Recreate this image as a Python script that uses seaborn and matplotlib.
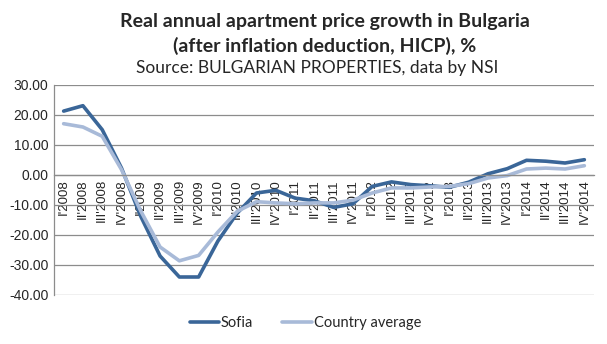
import matplotlib
matplotlib.use("Agg")
import matplotlib.pyplot as plt
import seaborn as sns
import pandas as pd
from matplotlib.lines import Line2D

quarters = ["I'2008", "II'2008", "III'2008", "IV'2008",
            "I'2009", "II'2009", "III'2009", "IV'2009",
            "I'2010", "II'2010", "III'2010", "IV'2010",
            "I'2011", "II'2011", "III'2011", "IV'2011",
            "I'2012", "II'2012", "III'2012", "IV'2012",
            "I'2013", "II'2013", "III'2013", "IV'2013",
            "I'2014", "II'2014", "III'2014", "IV'2014"]
sofia = [21.3, 23.1, 15.1, 2.3, -13.8, -27.0, -34.0, -34.0,
         -22.0, -12.7, -6.0, -5.1, -7.7, -8.6, -10.8, -9.6,
         -3.8, -2.3, -3.2, -3.6, -4.1, -2.4, 0.4, 2.1,
         4.9, 4.6, 4.0, 5.1]
country = [17.1, 16.0, 12.9, 1.8, -12.0, -24.0, -28.6, -26.8,
           -19.0, -12.1, -8.9, -9.3, -9.6, -9.3, -9.3, -8.4,
           -6.0, -4.3, -4.3, -4.0, -3.8, -2.9, -1.0, -0.2,
           2.0, 2.3, 2.0, 3.1]
series_names = ["Sofia", "Country average"]
colors = ["#3A6698", "#A8BAD8"]

df = pd.DataFrame({"quarter": quarters * 2,
                   "value": sofia + country,
                   "series": [series_names[0]] * len(quarters) + [series_names[1]] * len(quarters)})
df["x"] = list(range(len(quarters))) * 2

sns.set_style("white")
plt.rcParams['font.family'] = ['Liberation Sans', 'DejaVu Sans']

fig = plt.figure(figsize=(6.07, 3.44), dpi=100)
ax = fig.add_axes([54/607, 1 - 295/344, (594-54)/607, (295-85)/344])

sns.lineplot(data=df, x="x", y="value", hue="series", palette=colors,
             linewidth=2.6, ax=ax, legend=False, sort=False)

for s in ["top", "right"]:
    ax.spines[s].set_visible(False)
ax.spines["bottom"].set_position(("data", 0))
ax.spines["left"].set_color("#8C8C8C")
ax.spines["left"].set_linewidth(0.9)
ax.spines["bottom"].set_color("#8C8C8C")
ax.spines["bottom"].set_linewidth(0.9)

ax.set_xlim(-0.5, len(quarters) - 0.5)
ax.set_ylim(-40, 30)
ax.set_yticks(range(-40, 31, 10))
ax.set_yticklabels([f"{v:.2f}" for v in range(-40, 31, 10)], fontsize=10)
ax.set_xticks(range(len(quarters)))
ax.set_xticklabels(quarters, rotation=90, fontsize=9.5)
ax.tick_params(axis='x', length=0, pad=3)
ax.tick_params(axis='y', length=0, pad=4)
ax.set_xlabel("")
ax.set_ylabel("")
ax.grid(axis='y', color="#8C8C8C", linewidth=0.9)
ax.set_axisbelow(True)

fig.text(0.535, 1 - 21/344, "Real annual apartment price growth in Bulgaria",
         ha="center", va="center", fontsize=14, fontweight="bold", family="Lato")
fig.text(0.535, 1 - 46/344, "(after inflation deduction, HICP), %",
         ha="center", va="center", fontsize=14, fontweight="bold", family="Lato")
fig.text(0.522, 1 - 68/344, "Source: BULGARIAN PROPERTIES, data by NSI",
         ha="center", va="center", fontsize=12.5, family="Lato")

handles = [Line2D([0], [0], color=c, linewidth=2.6) for c in colors]
fig.legend(handles, series_names, loc="center", bbox_to_anchor=(0.503, 1 - 323/344),
           ncol=2, frameon=False, handlelength=2.0, handletextpad=0.15,
           columnspacing=2.0, prop={"family": "Lato", "size": 10.5})

fig.savefig("out.png", dpi=100)
